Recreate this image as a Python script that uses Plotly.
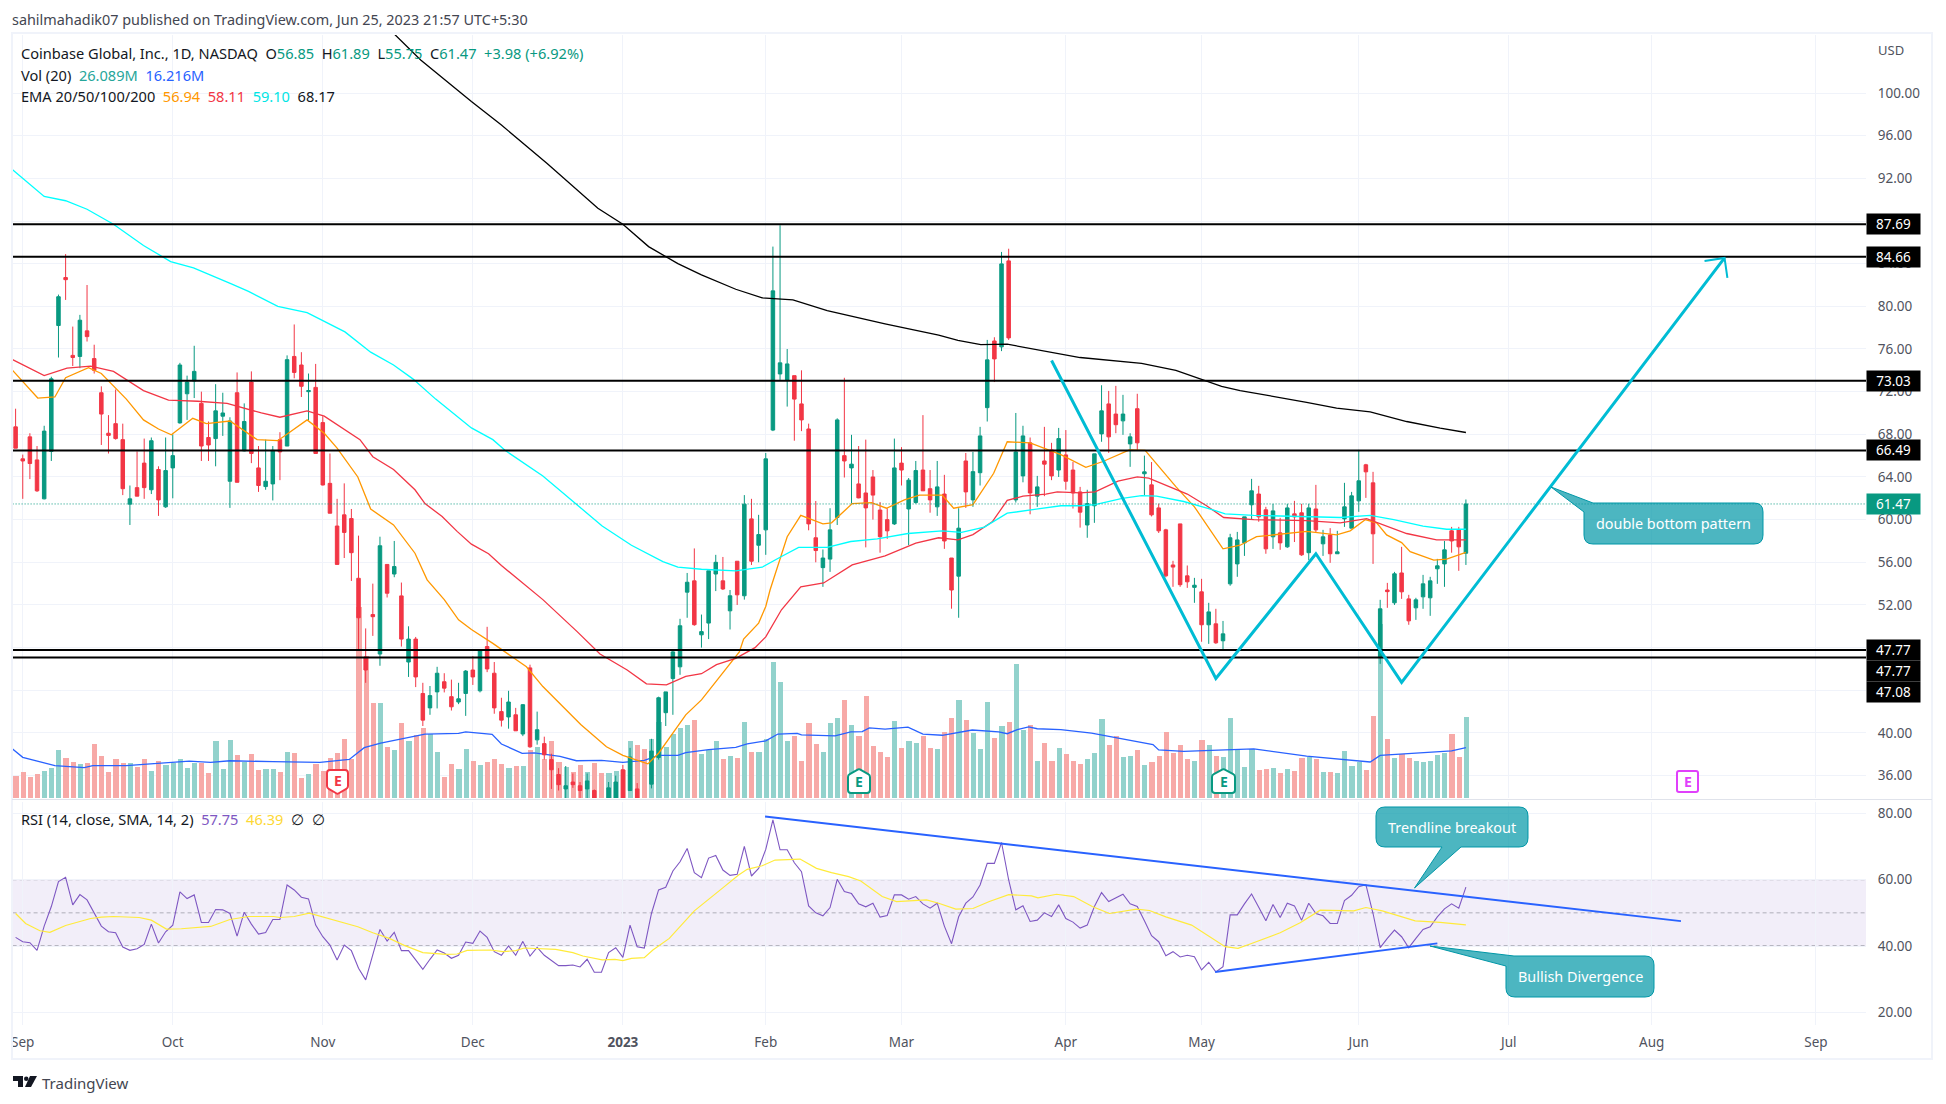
import plotly.graph_objects as go

W, H = 1946, 1104
FONT = "Noto Sans"
GREEN, RED = "#089981", "#f23645"

opens = [68.7,65.7,67.76,65.6,61.95,66.4,78.2,82.7,75.4,75.3,77.7,75.1,71.9,68.1,69.0,67.5,61.45,63.0,65.3,62.8,
64.7,61.2,64.85,69.07,71.8,73.0,70.9,67.7,67.6,69.7,63.6,71.9,66.45,72.9,64.85,63.1,63.35,67.5,66.9,75.3,
74.5,72.0,72.4,69.1,63.4,59.4,60.45,60.1,54.5,47.1,51.1,47.4,55.8,54.9,52.85,46.65,48.8,43.7,42.35,43.85,
44.8,43.4,42.9,43.7,45.9,43.95,48.1,45.6,42.0,41.5,41.7,39.9,46.1,39.35,39.0,37.5,36.1,34.75,35.4,35.05,
34.75,34.6,33.6,33.5,33.6,36.55,34.6,34.75,33.6,35.2,37.7,41.9,45.1,46.2,53.2,54.26,49.2,50.3,54.9,54.26,
51.45,56.1,52.86,60.07,57.6,59.04,68.4,73.66,73.1,73.5,70.85,68.5,58.3,55.5,56.3,60.2,66.0,64.85,63.35,62.5,
64.0,60.9,60.0,59.6,65.3,61.0,61.6,64.65,62.9,61.2,62.4,56.4,54.7,65.5,61.85,64.4,70.5,76.75,76.2,84.26,
61.85,64.1,67.2,62.2,65.5,66.54,64.65,66.07,64.65,62.6,59.5,61.3,68.04,70.85,69.9,69.26,67.1,70.4,64.3,63.26,
61.1,59.04,55.75,59.6,54.73,53.65,53.23,50.14,50.23,48.64,53.98,55.85,57.82,61.39,62.4,60.92,58.39,58.76,57.45,60.54,
60.64,56.9,61.0,57.73,58.57,56.8,60.07,59.2,61.76,65.14,63.45,47.14,53.4,52.2,55.0,52.57,51.73,52.76,52.67,55.39,
55.85,58.95,59.04,56.85]
highs = [70.4,66.1,68.1,66.9,68.8,73.4,81.1,84.9,78.1,79.2,82.0,76.4,72.5,69.8,72.2,69.0,63.2,66.4,67.6,67.7,
65.0,67.7,68.0,74.7,73.5,76.3,72.0,69.2,72.7,71.9,69.6,73.8,70.9,73.9,66.9,67.5,66.9,68.2,75.4,78.3,
75.7,73.7,74.6,69.7,66.2,61.95,63.4,61.0,58.5,49.8,54.0,58.4,55.8,58.0,54.1,50.0,49.0,44.7,44.4,46.2,
45.6,45.0,44.7,45.9,47.2,47.8,49.95,46.65,43.3,43.95,42.35,42.7,46.4,42.0,39.65,38.05,36.7,36.9,36.2,35.4,
36.2,34.7,33.8,35.4,36.0,37.0,38.6,35.3,33.8,39.45,43.4,43.85,47.8,50.7,55.0,57.3,51.1,55.2,56.7,56.5,
53.4,56.1,62.3,61.95,60.45,66.25,85.6,87.6,76.0,73.5,74.0,69.0,61.75,57.2,61.07,69.5,73.3,67.95,66.9,67.5,
64.65,61.65,61.07,67.6,66.8,63.9,65.5,69.8,64.65,65.5,64.2,56.4,61.07,66.25,66.35,68.7,76.85,77.1,85.1,85.4,
70.0,68.8,67.7,64.1,68.7,67.2,68.6,68.4,65.4,63.07,62.8,66.17,72.6,72.07,72.54,71.7,68.1,71.8,66.0,65.4,
61.5,59.14,56.14,59.6,55.7,54.54,54.45,52.2,51.64,50.5,58.67,58.85,60.26,63.82,63.17,61.2,61.48,60.17,61.48,61.76,
61.48,61.48,63.26,59.04,59.2,58.95,63.45,62.6,66.54,65.23,64.48,52.48,54.07,55.1,57.45,52.95,52.67,54.82,54.64,56.32,
58.0,59.32,59.32,61.89]
lows = [66.7,61.95,63.8,62.6,61.9,65.5,75.2,80.6,74.4,74.2,76.7,73.7,67.0,66.2,67.5,62.3,59.5,62.2,61.95,62.4,
60.35,61.1,62.0,69.0,69.35,71.4,65.5,65.5,65.0,67.85,61.1,63.5,66.4,65.3,62.6,62.8,61.8,63.7,66.9,73.25,
71.5,69.3,66.2,63.2,60.6,55.8,56.4,54.25,47.8,44.7,49.1,46.3,52.7,54.6,48.1,45.25,44.3,40.65,41.7,42.3,
43.8,42.1,42.7,41.6,44.5,43.8,45.7,41.8,40.6,40.4,40.2,39.7,38.6,38.9,37.5,34.75,34.6,33.9,34.85,33.9,
33.9,33.5,32.0,33.0,33.0,33.0,34.6,33.0,32.5,34.8,37.5,40.65,41.7,45.45,50.8,50.05,48.0,48.8,53.3,53.4,
49.7,52.0,52.5,55.75,56.0,56.7,68.3,73.1,70.6,67.4,68.3,59.0,56.0,53.7,55.1,59.5,63.95,61.5,62.0,57.4,
60.0,56.9,58.2,59.5,63.2,57.6,61.5,62.7,60.65,60.35,57.26,51.65,50.8,61.1,61.2,63.2,69.2,72.9,75.8,76.85,
61.6,63.5,60.5,61.2,62.2,63.7,64.0,62.8,61.04,59.25,58.3,59.7,67.3,66.26,68.1,67.95,64.95,66.54,62.3,60.3,
58.75,54.6,53.7,53.7,53.6,52.2,48.55,48.35,48.35,47.7,53.8,54.64,56.6,59.98,59.8,56.8,57.26,57.17,57.35,57.9,
56.6,56.2,58.76,56.6,55.95,56.8,59.32,59.2,60.73,62.04,55.85,46.48,51.73,52.0,52.57,50.14,50.6,51.64,50.98,53.98,
53.7,56.9,55.2,55.75]
closes = [66.7,65.5,65.26,62.7,68.3,73.2,80.9,82.5,75.2,78.7,77.16,74.0,69.9,67.9,67.6,62.9,61.95,62.2,63.0,67.4,
61.85,64.6,66.0,74.5,72.9,73.9,66.9,67.0,70.2,70.0,69.25,63.5,69.2,66.2,63.2,63.6,66.5,66.35,75.0,73.8,
72.5,72.1,66.2,63.25,60.6,55.8,58.8,56.9,50.8,45.9,50.9,57.55,53.1,55.6,48.8,48.8,45.25,41.2,43.5,45.6,
44.2,42.45,43.2,45.8,45.25,47.8,46.0,42.35,41.2,42.9,40.2,42.65,38.7,40.3,37.95,36.55,35.15,35.05,35.15,34.6,
35.5,33.9,33.2,34.85,35.4,33.5,37.75,33.6,33.0,38.3,43.3,43.85,47.6,50.05,54.13,50.15,49.5,55.2,56.0,53.5,
52.86,52.95,61.45,56.1,58.6,65.7,81.45,74.7,74.6,71.3,69.35,59.6,57.1,56.4,59.04,69.35,65.5,65.2,62.04,61.1,
62.3,58.4,58.95,64.85,64.65,63.7,64.6,62.7,61.85,63.07,58.0,53.4,59.2,62.6,64.5,67.85,74.98,75.07,83.98,77.04,
66.35,67.85,62.5,63.07,65.2,64.1,67.6,63.6,62.5,60.7,61.5,66.17,70.2,67.76,68.9,69.9,67.76,67.2,64.48,60.45,
58.95,54.73,55.55,53.9,54.17,53.85,50.14,51.35,48.45,49.29,58.3,58.1,60.26,62.7,60.26,57.26,60.82,57.82,61.1,60.26,
56.7,61.1,59.04,58.39,56.8,56.98,61.2,62.23,63.64,64.48,58.67,51.64,53.25,54.92,53.23,50.51,52.48,53.98,54.26,55.67,
57.17,58.0,57.45,61.47]
volumes = [7.2,8.5,6.9,7.8,8.8,9.8,15.6,13,11.7,11.1,11.4,17.5,13.6,8.5,12.7,11.4,11.4,10.1,12.4,8.8,
12,10.7,11.4,12.4,9.8,11.4,11.4,8.2,18.2,9.5,18.8,14,11.7,14.3,9.1,9.5,9.5,8.5,14.9,14.6,
6.6,7.8,11.1,8.8,13,14.6,19.1,12.4,61.6,45.6,30.7,30.7,16.5,15.3,24.3,18.2,20.4,22.7,20.7,14.9,
6.9,11.1,9.5,15.9,12,10.7,11.7,12.7,11.1,9.8,10.4,10.4,15.6,16.5,12.4,18.5,11.7,10.1,8.5,10.7,
8.5,11.4,8.2,8.2,8.8,9.1,18.2,17.2,15.9,19.1,24.6,16.5,20.7,22.7,23.6,25.2,14.3,15.6,18.2,12.7,
13.6,13,24.6,14.9,14.9,19.1,43.9,37.2,18.2,20.1,12,24.3,17.5,14.9,24.3,25.9,31.7,23.6,20.1,33,
16.9,14.9,13.3,24.9,16.2,18.5,17.8,20.1,16.2,15.9,21.4,25.9,31.7,25.2,21,15.9,31,19.4,23.3,24.6,
43.3,22,23.6,12,17.8,12,16.2,14.3,12,11.1,12.4,14.6,25.6,17.2,20.1,13.3,13.6,15.3,10.7,11.7,
13.6,21.4,14.6,17.2,12.4,12,18.8,17.2,13.6,13.3,25.9,15.5,10,15.8,9,9.3,9.7,8.1,9.3,8.7,
12.9,13.2,12.6,8.4,8.4,8.1,15.1,10.3,11.6,9,26.4,56,19,12.9,14.2,12.9,11.9,11.6,11.9,13.9,
14.5,20.6,13.2,26.089]
vol_ma_x = [-0.42,1,4,5.5,9.6,10.8,15.5,21.4,24.3,27.3,30,36,42.6,46.7,48.8,51.1,53.5,57.3,62,63,66.7,68,70.9,72.6,76.2,78.5,82,85,88,90,92.7,93.8,97,100.8,102.4,105,106.7,109.4,110,114.7,116.9,118.5,119.5,121.7,124.9,127,129.7,133.9,137.6,138.8,140.2,141.8,143,146.3,150.6,153.8,155.9,159.2,160,163.5,169.3,173.3,180.7,189.6,191,196,201,203]
vol_ma_y = [15.8,13.1,11.3,10.4,9.8,10.4,10.4,11.5,11.9,11.5,12,11.7,11.5,12.4,16.2,17.7,18.8,20.6,20.8,21.3,20.5,17.4,14.4,14.5,13.4,12,12.1,11.5,12.1,13.7,13.7,14.6,15.6,16.3,17.4,18.4,20.6,20.8,20.3,20,21.3,21.4,22.6,22.2,22.8,20.6,20.2,21.9,21.3,20.7,22,22.9,22.3,22,20.9,19.5,18.4,17.2,15.5,15,15.5,15.8,13.5,11.6,13.7,14.4,15.2,16.216]

ema100_x = [-0.42,4,7,10,13.7,17.9,21.7,24.9,30.2,32.6,36.7,40.8,46.1,49.7,52.9,55.6,58.8,63.8,66.8,68.5,73.8,78.6,82.1,86.2,90.6,92.7,96,100.8,104.5,107.2,109.6,113.6,116.9,120.6,124.9,129.7,132.4,135.6,138.8,143.1,146.3,149,151.1,154.9,157.6,159.7,163.5,167.7,169.3,173.3,180.7,185.4,189.6,192.9,197,200.3,203]
ema100_y = [92.8,90.3,89.9,89.1,87.7,85.7,84.2,83.6,82.1,81.4,80,79.4,77.6,75.7,74.5,73.2,71.3,68.6,67.5,66.5,64.1,61.4,59.4,57.6,56.07,55.54,55.35,55.2,55.54,56.54,57.4,57.4,57.95,58.2,58.7,58.95,58.8,59.3,60.6,61,61.3,61.3,61.4,62,62.26,62.2,61.7,60.9,60.54,60.4,60.3,60.2,60.4,60,59.4,59.1,59.1]
ema50_x = [-0.42,4,7.2,10.5,13.7,17.9,21.4,25.5,29.6,34.4,37,40.8,43.2,46.1,48.2,50,52.9,55.9,57.3,59.7,61.8,63.8,66.2,68,73.8,78.6,81.8,85.6,88.3,91.1,93.8,96,98.1,100.8,103.5,105,107.2,109.9,113.1,117.1,121.7,126,129.2,131.9,134,136.7,138.8,141,144.2,145.8,149,151.1,154.3,157,158.6,164,166.7,169.1,173.3,180.7,185.4,189.1,191.5,194.7,198.9,203]
ema50_y = [75,73.5,74.2,74.4,73.9,72.1,71.2,71.1,70.9,70,69.6,70.2,69.7,68.4,67.5,65.9,64.7,62.8,61.5,60.3,58.9,57.7,56.8,55.7,52.5,49.5,47.4,45.9,44.6,44.5,45.3,45.55,46.4,47,48,49,51.55,53.7,54.06,55.76,56.6,57.8,58.3,58.1,58.6,59.8,61.8,62.2,62.4,62.6,62.5,62.6,63.6,64,63.9,62.4,61.3,60.2,60,59.9,59.7,60.1,59.5,58.7,58.1,58.11]
ema20_x = [-0.42,3.1,5.5,7,10.2,12,15.5,17.9,20,21.8,24.8,26.7,30,33.8,36.7,40.8,43.2,45,47.9,49.7,52.9,55.9,57.6,60,62,63.8,66.8,71.5,73.8,79.1,82.7,85,88.5,90,93.8,96,98.6,101.3,101.9,104,105,105.6,108,109.9,113,114.2,117.1,119.8,121.9,124.4,126.5,129.7,131.3,134,136.9,138.8,142,146.3,149.8,152.2,155.9,158.1,162.4,165,169,171.4,173.7,176.1,180.7,184.9,186.8,188.9,190.5,191.9,194,195.2,198.5,200.3,203]
ema20_y = [74,71.4,71.5,73.3,74.25,73.7,71.3,69.35,68.5,67.95,69.5,69,69.25,67.5,67.4,69.35,68.1,66.7,64,61,59.5,56.85,54.35,52.5,50.6,49.7,48.4,46.2,44.35,40.8,38.7,37.9,37.1,38.1,41.7,43.1,45.3,47.6,48.8,50.3,51.86,53.4,58.4,60.4,59.6,59.7,61.5,61.6,61.07,61.85,62.3,62.3,61.07,61.4,64.35,67.3,67.2,66.1,64.9,65.45,66.54,66.5,63.1,61.2,57.26,57.6,58.4,58.57,58.9,58.57,58.95,60,59.7,58.57,57.85,57,56.2,56.3,56.94]
ema200_x = [52.9,56.7,63.8,68,74.4,81.5,85,88.6,92.7,96,100.8,104.5,108.8,113.6,121.7,129.2,131.9,135.1,138.8,142.6,149,157.6,162.4,168.8,171.4,180.7,184.9,189.6,194.7,199.4,203]
ema200_y = [105.6,103.1,99.2,97,93.4,89.2,87.7,85.6,84,82.95,81.6,80.8,80.6,79.6,78.35,77.3,76.8,76.4,76.45,76,75.2,74.66,74,72.5,72.1,71,70.45,70.1,69.2,68.57,68.17]

rsi = [42.6,41.3,41,38.7,46,51.9,59.4,60.7,52.4,55.5,53.9,49.8,46,44.3,44,39.7,38.7,39.2,40.5,46.6,
40.9,44.3,46.3,56.3,54.3,55.4,47.1,47.1,51,50.9,49.8,43,50.2,46.6,43.6,44.1,48,48,58.4,56.9,
54.7,54.2,46.3,42.8,40.3,35.8,40.3,38.6,33.3,29.8,37.3,45,41.5,44.1,38.6,38.6,35.8,33,36,38.8,
37.9,36.3,37.2,41.2,40.8,44.5,42.6,38.3,37.2,40,37.2,41.4,37,39.6,37.2,35.6,34.1,34.1,34.3,33.7,
36,32.1,32.1,38,39.5,36.6,46.3,39.8,39.4,49.8,56.9,57.7,62.6,65.4,69.4,62.1,60.6,66.5,67.3,62.9,
61.3,61.6,70,61.1,63.4,69.1,78,69,69,65.1,62.4,52.1,50,49.1,51.6,60.1,56.4,55.8,52.7,51.8,
52.9,48.7,49.2,55.4,55.4,54.1,54.9,52.7,51.4,52.9,46,40.7,48.8,52.9,54.8,58.4,64.9,64.9,71.2,59.9,
50.9,52.1,47.4,47.8,50,48.9,52.4,48.3,47.2,45.4,46.3,51.9,56.1,53.4,54.4,55.6,52.7,51.9,47.6,43.1,
41.3,37.1,38.3,36.7,37.2,36.8,32.8,35.1,32.2,33.8,49.4,49.4,52.7,55.7,51.7,47.6,52.5,48.6,52.9,52.1,
47.8,52.9,49.8,49.1,46.8,46.8,53.7,55.3,57.9,58.5,49.8,39.5,42.3,44.8,42.8,39.5,42.3,45,45.8,48.8,
51.2,52.7,51.4,57.75]
rsi_ma_x = [0,1.4,3.4,4.8,7,10.5,12,13.7,17.3,19,21.1,23.2,27.3,30,32.6,36.1,37,39,41.1,44.4,47.9,50,52.3,54.4,57,60.3,61.8,63.2,66.5,68.2,70,71.2,75.6,78,79.4,82.1,83.9,85,86.2,88,89.2,91.5,95,99.2,101.2,102.4,104.5,106.3,109.8,112.1,114.2,116.6,118.3,121.3,123.3,127.5,129.2,131.6,134,136.3,139,142.2,143.1,145.7,148.1,150.7,153.1,156.9,158.7,161,164.6,169.3,171.1,172.8,177,179.8,182.6,187.3,189,191.3,194.2,195.9,199.4,203]
rsi_ma_y = [49.8,46.8,44.6,44.1,46.2,48.3,48.7,48.9,48.6,47.8,45.1,45.2,45.9,48,48.9,48.9,48.6,48.9,49.9,48,45.8,44,42.3,40.2,38,37.5,37.6,38.7,38.8,38.3,38.6,39.4,39,38,37,35.8,36,35.6,36.3,36.5,38.8,42.3,50.6,57.9,61.4,63.1,64.2,65.9,66.2,63.4,62.1,60.9,59.6,54.9,53.4,53.9,52.9,51.1,51.3,53.4,55.5,55.1,54.5,55.6,54.9,51.9,49.8,51.1,50.7,48.8,46.3,39.8,39.3,40.6,44,47,50.8,50.6,51.6,50.6,48.8,47.6,47.1,46.39]

level_values = [87.69, 84.66, 73.03, 66.49, 47.77, 47.08]
level_labels = ["87.69", "84.66", "73.03", "66.49", "47.77", "47.77", "47.08"]
last_price = 61.47
pattern_x = [145, 168, 182, 194, 239.2]
pattern_y = [74.92, 45.1, 56.8, 44.74, 84.54]
head_x = [236.4, 239.2, 239.6]
head_y = [84.26, 84.54, 82.66]
rsi_fall_x = [104.9, 233.1]
rsi_fall_y = [79, 47.5]
rsi_rise_x = [167.9, 199]
rsi_rise_y = [32.2, 40.8]
time_ticks = [1, 22, 43, 64, 85, 105, 124, 147, 166, 188, 209, 229, 252]
time_labels = ["Sep", "Oct", "Nov", "Dec", "<b>2023</b>", "Feb", "Mar", "Apr", "May", "Jun", "Jul", "Aug", "Sep"]
price_ticks = list(range(36, 101, 4))
rsi_ticks = [20, 40, 60, 80]

PX_L, PX_R = 12.6, 1866
P_TOP, P_BOT = 35, 798
R_TOP, R_BOT = 802, 1025
X_RANGE = [-0.42, 259.0]
PRICE_RANGE = [33.9, 105.44]
VOL_RANGE = [0, 245.7]
RSI_RANGE = [16.2, 83.4]

def px(x): return x / W
def py(y): return 1 - y / H
def pt(x, y): return f"{px(x):.6f},{py(y):.6f}"

def rounded(points):
    """closed path through (x, y, r): rounded corners where r > 0"""
    n = len(points)
    d = ""
    for k in range(n):
        x, y, r = points[k]
        xp, yp, _ = points[k - 1]
        xn, yn, _ = points[(k + 1) % n]
        if r:
            la = ((x - xp) ** 2 + (y - yp) ** 2) ** .5
            lb = ((xn - x) ** 2 + (yn - y) ** 2) ** .5
            a = (x + (xp - x) * r / la, y + (yp - y) * r / la)
            b = (x + (xn - x) * r / lb, y + (yn - y) * r / lb)
            d += ("M" if k == 0 else "L") + pt(*a) + " Q" + pt(x, y) + " " + pt(*b) + " "
        else:
            d += ("M" if k == 0 else "L") + pt(x, y) + " "
    return d + "Z"

fig = go.Figure()
fig.add_trace(go.Bar(x=list(range(len(volumes))), y=volumes, yaxis="y", width=0.72,
                     marker=dict(color=["#92d2cc" if c >= o else "#f7a9a7" for o, c in zip(opens, closes)], line_width=0),
                     hoverinfo="skip"))
fig.add_trace(go.Scatter(x=vol_ma_x, y=vol_ma_y, yaxis="y", mode="lines", line=dict(color="#2962ff", width=1.3), hoverinfo="skip"))
fig.add_trace(go.Candlestick(x=list(range(len(opens))), open=opens, high=highs, low=lows, close=closes, yaxis="y2",
                             whiskerwidth=0,
                             increasing=dict(line=dict(color=GREEN, width=1), fillcolor=GREEN),
                             decreasing=dict(line=dict(color=RED, width=1), fillcolor=RED), hoverinfo="skip"))
for xs, ys, col in [(ema20_x, ema20_y, "#ff9800"), (ema50_x, ema50_y, "#f23645"),
                    (ema100_x, ema100_y, "#00ffff"), (ema200_x, ema200_y, "#000000")]:
    fig.add_trace(go.Scatter(x=xs, y=ys, yaxis="y2", mode="lines", line=dict(color=col, width=1.3), hoverinfo="skip"))
fig.add_trace(go.Scatter(x=X_RANGE, y=[last_price, last_price], yaxis="y2", mode="lines",
                         line=dict(color=GREEN, width=1, dash="1px 2px"), hoverinfo="skip"))
for v in level_values:
    fig.add_trace(go.Scatter(x=X_RANGE, y=[v, v], yaxis="y2", mode="lines", line=dict(color="#000", width=2), hoverinfo="skip"))
fig.add_trace(go.Scatter(x=pattern_x, y=pattern_y, yaxis="y2", mode="lines", line=dict(color="#00bcd4", width=3), hoverinfo="skip"))
fig.add_trace(go.Scatter(x=head_x, y=head_y, yaxis="y2", mode="lines", line=dict(color="#00bcd4", width=2), hoverinfo="skip"))
fig.add_trace(go.Scatter(x=list(range(len(rsi))), y=rsi, yaxis="y3", mode="lines", line=dict(color="#7e57c2", width=1.1), hoverinfo="skip"))
fig.add_trace(go.Scatter(x=rsi_ma_x, y=rsi_ma_y, yaxis="y3", mode="lines", line=dict(color="#ffeb3b", width=1.2), hoverinfo="skip"))
for xs, ys in [(rsi_fall_x, rsi_fall_y), (rsi_rise_x, rsi_rise_y)]:
    fig.add_trace(go.Scatter(x=xs, y=ys, yaxis="y3", mode="lines", line=dict(color="#2962ff", width=2), hoverinfo="skip"))

shapes = []
# RSI band and its dashed limits
shapes.append(dict(type="rect", xref="x", yref="y3", x0=X_RANGE[0], x1=X_RANGE[1], y0=40, y1=60,
                   fillcolor="rgba(126,87,194,0.1)", line_width=0, layer="below"))
for v, c in [(60, "#787b86"), (50, "rgba(120,123,134,0.55)"), (40, "#787b86")]:
    shapes.append(dict(type="line", xref="x", yref="y3", x0=X_RANGE[0], x1=X_RANGE[1], y0=v, y1=v,
                       line=dict(color=c, width=1, dash="4px 3px"), layer="below"))
# frame
FR = "#f0f3fa"
shapes.append(dict(type="rect", xref="paper", yref="paper", x0=px(12), x1=px(1932), y0=py(1059), y1=py(33), line=dict(color=FR, width=2)))
shapes.append(dict(type="line", xref="paper", yref="paper", x0=px(12), x1=px(1932), y0=py(799.5), y1=py(799.5), line=dict(color="#e0e3eb", width=1)))

# callouts
CALL = dict(type="path", xref="paper", yref="paper", fillcolor="rgba(0,151,167,0.7)", line=dict(color="#0097a7", width=1), layer="above")
shapes.append(dict(CALL, path=rounded([(1593, 503, 0), (1763, 503, 9), (1763, 544, 9), (1584, 544, 9), (1584, 512, 0), (1551, 487, 0)])))
shapes.append(dict(CALL, path=rounded([(1376, 807, 9), (1528, 807, 9), (1528, 847, 9), (1461, 847, 0), (1414.5, 888, 0), (1442, 847, 0), (1376, 847, 9)])))
shapes.append(dict(CALL, path=rounded([(1514, 956, 0), (1654, 956, 9), (1654, 997, 9), (1506, 997, 9), (1506, 966, 0), (1430, 946, 0)])))

# earnings badges
def badge(col, x0, x1, y0, y1, down):
    xm = (x0 + x1) / 2
    if down:
        pts = [(x0, y0, 3), (x1, y0, 3), (x1, y1 - 6, 2), (xm, y1, 1), (x0, y1 - 6, 2)]
    else:
        pts = [(xm, y0, 1), (x1, y0 + 6, 2), (x1, y1, 3), (x0, y1, 3), (x0, y0 + 6, 2)]
    return dict(type="path", xref="paper", yref="paper", path=rounded(pts), fillcolor="#ffffff", line=dict(color=col, width=2), layer="above")
shapes.append(badge(RED, 327, 348, 770, 794, True))
shapes.append(badge(GREEN, 848, 870, 769, 793, False))
shapes.append(badge(GREEN, 1212, 1235, 769, 793, False))
shapes.append(dict(type="path", xref="paper", yref="paper", layer="above", fillcolor="#ffffff", line=dict(color="#e040fb", width=2),
                   path=rounded([(1677, 771, 2), (1698, 771, 2), (1698, 792, 2), (1677, 792, 2)])))

# TradingView logo
BK = "#131722"
LOGO = dict(type="path", xref="paper", yref="paper", fillcolor=BK, line_width=0)
shapes.append(dict(LOGO, path=f"M{pt(13,1076)} L{pt(23,1076)} L{pt(23,1087)} L{pt(18,1087)} L{pt(18,1081)} L{pt(13,1081)} Z"))
shapes.append(dict(type="circle", xref="paper", yref="paper", x0=px(24), x1=px(28.5), y0=py(1081), y1=py(1076.5), fillcolor=BK, line_width=0))
shapes.append(dict(LOGO, path=f"M{pt(30,1076)} L{pt(37,1076)} L{pt(31,1087)} L{pt(25,1087)} Z"))

ann = []
def text(x, y, s, size=14.4, color="#131722", anchor="left", **kw):
    ann.append(dict(xref="paper", yref="paper", x=px(x), y=py(y), text=s, showarrow=False, xanchor=anchor, yanchor="middle",
                    font=dict(family=FONT, size=size, color=color), **kw))
def c(col, s): return f'<span style="color:{col}">{s}</span>'

text(10, 20, "sahilmahadik07 published on TradingView.com, Jun 25, 2023 21:57 UTC+5:30", color="#434651")
text(18.5, 53, "Coinbase Global, Inc., 1D, NASDAQ  O" + c(GREEN, "56.85") + "  H" + c(GREEN, "61.89") + "  L" + c(GREEN, "55.75") +
     "  C" + c(GREEN, "61.47") + "  " + c(GREEN, "+3.98 (+6.92%)"), size=14.6)
text(18.5, 75, "Vol (20)  " + c("#26a69a", "26.089M") + "  " + c("#2962ff", "16.216M"), size=14.6)
text(18.5, 96, "EMA 20/50/100/200  " + c("#ff9800", "56.94") + "  " + c("#f23645", "58.11") + "  " + c("#00e5e5", "59.10") + "  " + c("#131722", "68.17"), size=14.6)
text(18.5, 819, "RSI (14, close, SMA, 14, 2)  " + c("#7e57c2", "57.75") + "  " + c("#fdd835", "46.39") + "  ∅  ∅", size=14.6)
text(1876, 50, "USD", size=13, color="#50535e")
text(40, 1083, "TradingView", size=15, color="#434651")
text(1673.5, 523.5, "double bottom pattern", color="#ffffff", anchor="center")
text(1452, 827, "Trendline breakout", color="#ffffff", anchor="center")
text(1580, 976.5, "Bullish Divergence", color="#ffffff", anchor="center")
text(337.5, 780.5, "<b>E</b>", size=14, color=RED, anchor="center")
text(859, 781.5, "<b>E</b>", size=14, color=GREEN, anchor="center")
text(1223.5, 781.5, "<b>E</b>", size=14, color=GREEN, anchor="center")
text(1687.5, 781.5, "<b>E</b>", size=14, color="#e040fb", anchor="center")

# axis labels in boxes
def price_box(value, label, bg, shift=0):
    ann.append(dict(xref="paper", yref="y2", x=px(1866), y=value, yshift=shift, text=label, showarrow=False, xanchor="left", yanchor="middle",
                    bgcolor=bg, width=53, height=20, borderpad=0, align="center", font=dict(family=FONT, size=13.5, color="#ffffff")))
price_box(87.69, level_labels[0], "#000000")
price_box(84.66, level_labels[1], "#000000")
price_box(73.03, level_labels[2], "#000000")
price_box(66.49, level_labels[3], "#000000")
price_box(47.77, level_labels[4], "#000000")
price_box(47.77, level_labels[5], "#000000", -21)
price_box(47.08, level_labels[6], "#000000", -35)
price_box(last_price, f"{last_price:.2f}", GREEN)

GRID = "#f0f3fa"
AX = dict(family=FONT, size=13.5, color="#50535e")
fig.update_layout(
    width=W, height=H, margin=dict(l=0, r=0, t=0, b=0), paper_bgcolor="#ffffff", plot_bgcolor="#ffffff",
    showlegend=False, bargap=0, shapes=shapes, annotations=ann, font=dict(family=FONT),
    xaxis=dict(domain=[px(PX_L), px(PX_R)], range=X_RANGE, anchor="y3", tickvals=time_ticks, ticktext=time_labels, automargin=False,
               showgrid=True, gridcolor=GRID, gridwidth=1, zeroline=False, showline=False, ticks="outside", ticklen=5,
               tickcolor="rgba(0,0,0,0)", tickfont=AX, rangeslider=dict(visible=False), tickangle=0),
    yaxis=dict(domain=[py(P_BOT), py(P_TOP)], range=VOL_RANGE, visible=False, fixedrange=True, automargin=False),
    yaxis2=dict(domain=[py(P_BOT), py(P_TOP)], range=PRICE_RANGE, overlaying="y", side="right", anchor="x", automargin=False,
                tickvals=price_ticks, ticktext=[f"{v:.2f}" for v in price_ticks], showgrid=True, gridcolor=GRID, zeroline=False,
                showline=False, ticks="outside", ticklen=8, tickcolor="rgba(0,0,0,0)", tickfont=AX),
    yaxis3=dict(domain=[py(R_BOT), py(R_TOP)], range=RSI_RANGE, side="right", anchor="x", automargin=False,
                tickvals=rsi_ticks, ticktext=[f"{v:.2f}" for v in rsi_ticks], showgrid=True, gridcolor=GRID, zeroline=False,
                showline=False, ticks="outside", ticklen=8, tickcolor="rgba(0,0,0,0)", tickfont=AX),
)
fig.write_html("out.html", config={"displayModeBar": False},
               post_script="document.body.style.margin='0';document.body.style.overflow='hidden';")
